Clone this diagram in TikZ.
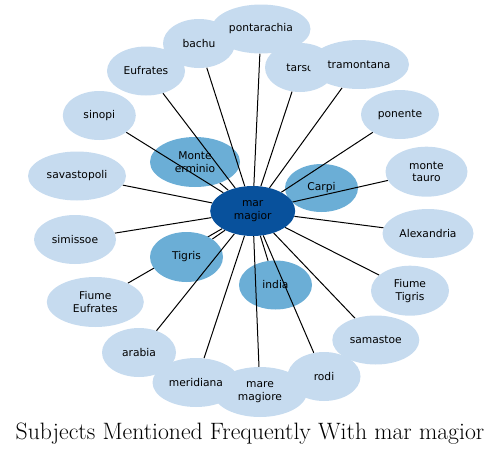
\documentclass[tikz,border=0pt]{standalone}
\usepackage{fontspec}
\newfontfamily\nodefont{DejaVu Sans}
\usetikzlibrary{shapes.geometric}
\definecolor{hubblue}{HTML}{08519C}
\definecolor{midblue}{HTML}{6BAED6}
\definecolor{leafblue}{HTML}{C6DBEF}
\pgfdeclarelayer{lone}
\pgfdeclarelayer{ltwo}
\pgfdeclarelayer{lthree}
\pgfsetlayers{lone,ltwo,lthree,main}
\begin{document}
\begin{tikzpicture}[x=1pt,y=-1pt,
  bubble/.style 2 args={ellipse, inner sep=0pt, minimum width=#1pt, minimum height=#2pt,
    align=center, text=black, font=\nodefont\fontsize{10.7}{12.7}\selectfont},
  leaf/.style 2 args={bubble={#1}{#2}, fill=leafblue},
  mid/.style 2 args={bubble={#1}{#2}, fill=midblue},
  hubnode/.style 2 args={bubble={#1}{#2}, fill=hubblue},
  link/.style={draw=black, line width=1pt}]
\useasboundingbox (0,0) rectangle (501,453);

% hub
\node[hubnode={85}{50}] (hub) at (252.7,211) {mar\\magior};

% medium nodes
\begin{pgfonlayer}{ltwo}
\node[mid={90}{50}] (monteerminio) at (195,162) {Monte\\erminio};
\node[mid={73}{48}] (carpi) at (321.5,188) {Carpi};
\node[mid={73}{50}] (tigris) at (186.5,257) {Tigris};
\node[mid={73}{49}] (india) at (275.5,285) {india};
\end{pgfonlayer}

% outer nodes
\node[leaf={72}{49}] (bachu) at (199,43.5) {bachu};
\node[leaf={99}{49}] (pontarachia) at (261,29) {pontarachia};
\node[leaf={78}{49}] (eufrates) at (146,71) {Eufrates};
\node[leaf={70}{49}] (tarso) at (300,67.5) {tarso};
\node[leaf={100}{49}] (tramontana) at (359,64.5) {tramontana};
\node[leaf={73}{49}] (sinopi) at (99.3,115.5) {sinopi};
\node[leaf={98}{49}] (savastopoli) at (77,176) {savastopoli};
\node[leaf={82}{49}] (simissoe) at (75,239.5) {simissoe};
\node[leaf={97}{50}] (fiumeeufrates) at (95.3,302) {Fiume\\Eufrates};
\node[leaf={78}{49}] (ponente) at (400,114.5) {ponente};
\node[leaf={82}{50}] (montetauro) at (426.5,171.7) {monte\\tauro};
\node[leaf={91}{49}] (alexandria) at (428,233.5) {Alexandria};
\node[leaf={78}{50}] (fiumetigris) at (410,290.7) {Fiume\\Tigris};
\node[leaf={87}{49}] (samastoe) at (375.8,340) {samastoe};
\node[leaf={74}{49}] (arabia) at (139,352.5) {arabia};
\node[leaf={94}{50}] (maremagiore) at (260,392) {mare\\magiore};
\node[leaf={87}{49}] (meridiana) at (196,382.5) {meridiana};
\node[leaf={73}{49}] (rodi) at (324,376.5) {rodi};

% edges under the medium nodes
\begin{pgfonlayer}{lone}
\draw[link] (hub) -- (fiumeeufrates);
\draw[link] (hub) -- (tigris);
\draw[link] (hub) -- (monteerminio);
\draw[link] (hub) -- (carpi);
\draw[link] (hub) -- (india);
\end{pgfonlayer}

% edges over the medium nodes
\begin{pgfonlayer}{lthree}
\foreach \n in {bachu,pontarachia,eufrates,tarso,tramontana,sinopi,savastopoli,simissoe,
  ponente,montetauro,alexandria,fiumetigris,samastoe,arabia,maremagiore,meridiana,rodi}
  \draw[link] (hub) -- (\n);
\end{pgfonlayer}

% title
\node[anchor=base, font=\fontsize{23.7}{28}\selectfont] (title) at (250,439.3)
  {Subjects Mentioned Frequently With mar magior};
\end{tikzpicture}
\end{document}
